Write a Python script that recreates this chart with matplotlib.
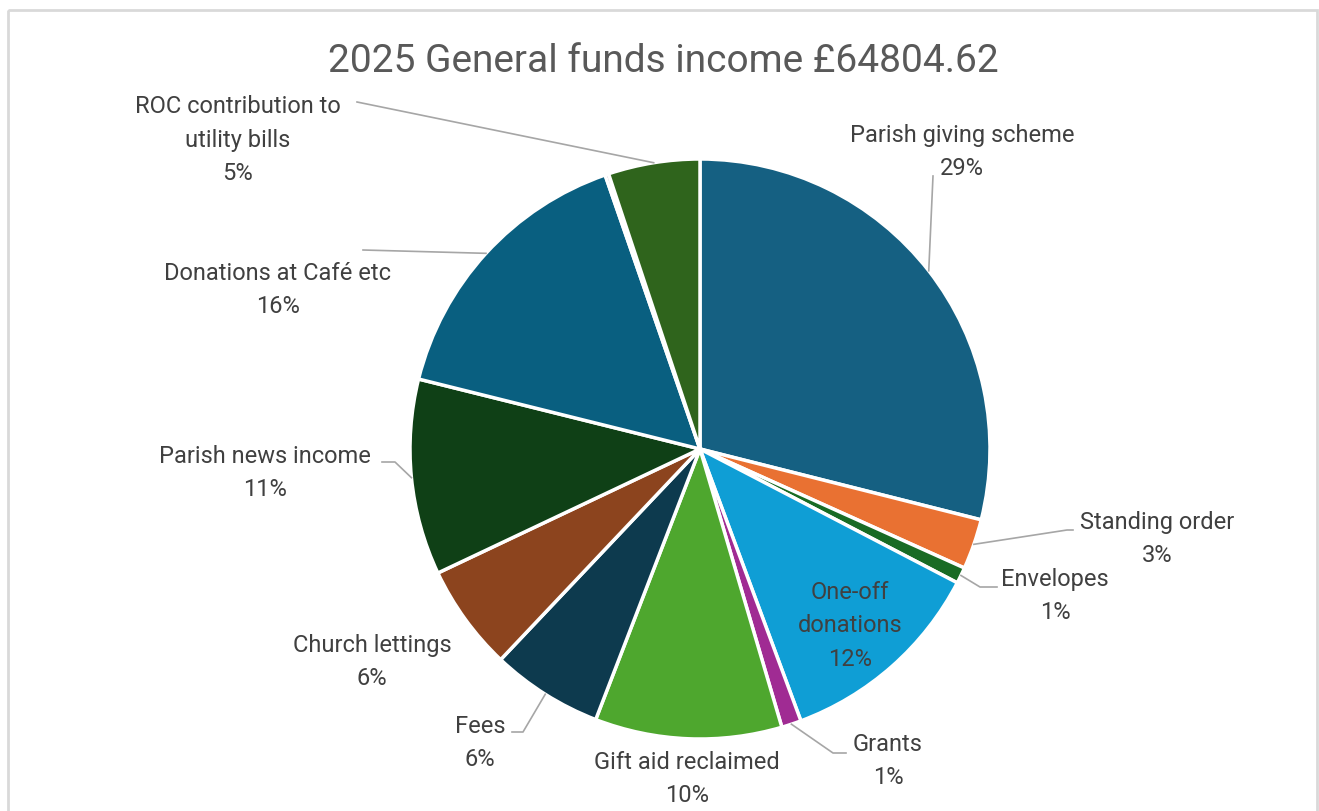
import matplotlib.pyplot as plt
from matplotlib.lines import Line2D
from matplotlib.patches import Rectangle
import numpy as np

# income categories, clockwise from 12 o'clock (percent of total)
categories = ['Parish giving scheme', 'Standing order', 'Envelopes', 'One-off\ndonations',
              'Grants', 'Gift aid reclaimed', 'Fees', 'Church lettings',
              'Parish news income', 'Donations at Café etc', 'Other',
              'ROC contribution to\nutility bills']
shares = [28.9, 2.8, 0.9, 11.7, 1.1, 10.4, 6.2, 5.9, 10.9, 15.8, 0.2, 5.1]
colors = ['#156082', '#E97132', '#196B24', '#0F9ED5', '#A02B93', '#4EA72E',
          '#0D3A4E', '#8C441E', '#0F4016', '#095F80', '#601A58', '#2F641C']
show_label = [True] * 10 + [False, True]
title = '2025 General funds income £64804.62'

W, H = 1319, 812
CX, CY, R = 700, 450, 290

plt.rcParams['font.family'] = ['Roboto', 'DejaVu Sans']
fig = plt.figure(figsize=(W / 100, H / 100), dpi=100)
ax = fig.add_axes([0, 0, 1, 1])
ax.axis('off')

wedges, _ = ax.pie(shares, colors=colors, startangle=90, counterclock=False,
                   wedgeprops=dict(edgecolor='white', linewidth=2.5))
ax.set_xlim(-CX / R, (W - CX) / R)
ax.set_ylim(-(H - CY) / R, CY / R)
ax.set_aspect('auto')


def fpx(x, y):
    # pixel position (from top left) to figure fraction
    return x / W, 1 - y / H


# label centre, then connector points from the text back towards the slice
layout = {
    0: ((962, 152), [(933, 177)]),
    1: ((1157, 539), [(1073, 531), (1067, 531)]),
    2: ((1055, 596), [(997, 588), (980, 588)]),
    3: ((850, 626), None),
    4: ((888, 761), [(846, 754), (833, 754)]),
    5: ((687, 779), None),
    6: ((480, 743), [(512, 733), (523, 733)]),
    7: ((372, 662), None),
    8: ((265, 473), [(382, 463), (395, 463)]),
    9: ((278, 290), [(363, 251)]),
    11: ((238, 140), [(357, 103)]),
}

total = sum(shares)
to_fig = fig.transFigure.inverted()
for i, w in enumerate(wedges):
    if not show_label[i]:
        continue
    pct = round(shares[i] / total * 100)
    (tx, ty), pts = layout[i]
    fig.text(*fpx(tx, ty), f'{categories[i]}\n{pct}%', ha='center', va='center',
             multialignment='center', fontsize=17, color='#404040', linespacing=1.6)
    if pts:
        ang = np.deg2rad((w.theta1 + w.theta2) / 2)
        edge = to_fig.transform(ax.transData.transform((np.cos(ang), np.sin(ang))))
        xs = [fpx(*p)[0] for p in pts] + [edge[0]]
        ys = [fpx(*p)[1] for p in pts] + [edge[1]]
        fig.add_artist(Line2D(xs, ys, color='#A6A6A6', linewidth=1.2))

fig.text(*fpx(663, 62), title, ha='center', va='center', fontsize=28, color='#595959')

# chart area frame
fig.add_artist(Rectangle(fpx(8, 11), (W - 10) / W, -(H) / H, transform=fig.transFigure,
                         fill=False, edgecolor='#D9D9D9', linewidth=2))

fig.savefig('out.png', dpi=100, facecolor='white')
